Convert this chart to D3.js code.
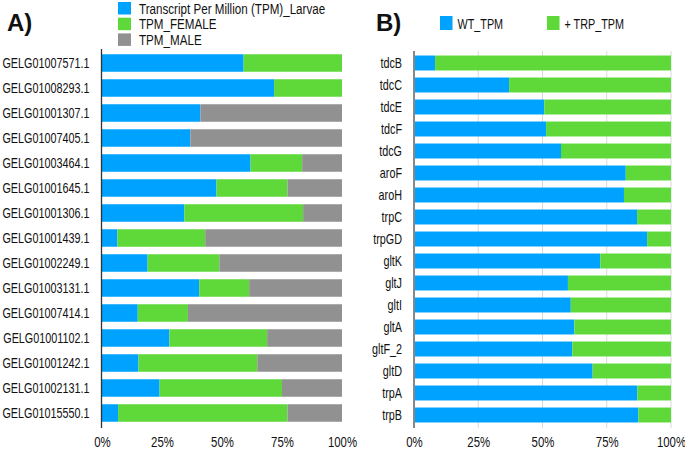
<!DOCTYPE html>
<html><head><meta charset="utf-8">
<script src="https://cdn.jsdelivr.net/npm/d3@7"></script>
<style>
body{margin:0;background:#fff;}
svg{display:block;}
text{font-family:"Liberation Sans",Arial,sans-serif;fill:#111;}
</style></head><body>
<svg id="c" width="685" height="450"></svg>
<script>
// Panel A data (fractions of total)
const genesA = ["GELG01007571.1","GELG01008293.1","GELG01001307.1","GELG01007405.1","GELG01003464.1","GELG01001645.1","GELG01001306.1","GELG01001439.1","GELG01002249.1","GELG01003131.1","GELG01007414.1","GELG01001102.1","GELG01001242.1","GELG01002131.1","GELG01015550.1"];
const larvaeA = [0.590,0.717,0.410,0.368,0.619,0.477,0.343,0.064,0.190,0.405,0.149,0.281,0.152,0.240,0.067];
const femaleA = [0.410,0.283,0.000,0.000,0.215,0.296,0.495,0.366,0.299,0.208,0.209,0.407,0.495,0.510,0.706];
const maleA   = [0.000,0.000,0.590,0.632,0.166,0.227,0.162,0.570,0.511,0.387,0.642,0.312,0.353,0.250,0.227];
const seriesA = ["Transcript Per Million (TPM)_Larvae","TPM_FEMALE","TPM_MALE"];
// Panel B data
const genesB = ["tdcB","tdcC","tdcE","tdcF","tdcG","aroF","aroH","trpC","trpGD","gltK","gltJ","gltI","gltA","gltF_2","gltD","trpA","trpB"];
const wtB  = [0.082,0.370,0.507,0.514,0.572,0.824,0.817,0.868,0.907,0.725,0.599,0.610,0.624,0.616,0.695,0.869,0.873];
const trpB = [0.918,0.630,0.493,0.486,0.428,0.176,0.183,0.132,0.093,0.275,0.401,0.390,0.376,0.384,0.305,0.131,0.127];
const seriesB = ["WT_TPM","+ TRP_TPM"];
const ticks = [0,0.25,0.5,0.75,1];

const cBlue="#00a2ff", cGreen="#5fd93a", cGray="#919191";
const svg = d3.select("#c");
const fmt = d => Math.round(d*100)+"%";
// condense text horizontally (reference uses a narrow face)
function narrow(sel, f){
  sel.each(function(){
    const w = this.getComputedTextLength();
    d3.select(this).attr("textLength", w*f).attr("lengthAdjust","spacingAndGlyphs");
  });
}

// ---------- Panel A ----------
const xA = d3.scaleLinear().domain([0,1]).range([102,342]);
const yA = d3.scaleBand().domain(genesA).range([50.5,425.5]).paddingInner(0.3).paddingOuter(0.15);
const rowsA = genesA.map((g,i)=>({g, vals:[larvaeA[i],femaleA[i],maleA[i]]}));
const colA = d3.scaleOrdinal().domain(seriesA).range([cBlue,cGreen,cGray]);
const layersA = d3.stack().keys([0,1,2]).value((d,k)=>d.vals[k])(rowsA);
const gA = svg.append("g");
gA.selectAll("g.layer").data(layersA).join("g").attr("fill",(d,i)=>colA(seriesA[i]))
  .selectAll("rect").data(d=>d).join("rect")
  .attr("x",d=>xA(d[0])).attr("width",d=>Math.max(0,xA(d[1])-xA(d[0])))
  .attr("y",d=>yA(d.data.g)).attr("height",yA.bandwidth());
const gyA = gA.append("g").attr("transform","translate(101.5,0)").call(d3.axisLeft(yA).tickSize(0).tickPadding(12));
gyA.select(".domain").remove();
gyA.selectAll("text").style("font-size","15px").call(narrow,0.72);
gA.append("line").attr("x1",101.5).attr("x2",101.5).attr("y1",49).attr("y2",428).attr("stroke","#333").attr("stroke-width",1.3);
const gxA = gA.append("g").attr("transform","translate(0,430)").call(d3.axisBottom(xA).tickValues(ticks).tickFormat(fmt).tickSize(0).tickPadding(6));
gxA.select(".domain").remove();
gxA.selectAll("text").style("font-size","15px").call(narrow,0.76);
// legend A
seriesA.forEach((s,i)=>{
  gA.append("rect").attr("x",118).attr("y",2+i*15.7).attr("width",13).attr("height",12.5).attr("fill",colA(s));
  gA.append("text").attr("x",139).attr("y",13.5+i*15.7).style("font-size","14px").text(s).call(narrow,0.83);
});
gA.append("text").attr("x",7).attr("y",31).style("font-size","24px").style("font-weight","bold").text("A)");

// ---------- Panel B ----------
const xB = d3.scaleLinear().domain([0,1]).range([414,671]);
const yB = d3.scaleBand().domain(genesB).range([52,426]).paddingInner(0.32).paddingOuter(0.16);
const rowsB = genesB.map((g,i)=>({g, vals:[wtB[i],trpB[i]]}));
const colB = d3.scaleOrdinal().domain(seriesB).range([cBlue,cGreen]);
const gB = svg.append("g");
gB.selectAll("line.grid").data(ticks.slice(1)).join("line").attr("class","grid")
  .attr("x1",d=>xB(d)).attr("x2",d=>xB(d)).attr("y1",51).attr("y2",428).attr("stroke","#d9d9d9").attr("stroke-width",1);
const layersB = d3.stack().keys([0,1]).value((d,k)=>d.vals[k])(rowsB);
gB.selectAll("g.layer").data(layersB).join("g").attr("fill",(d,i)=>colB(seriesB[i]))
  .selectAll("rect").data(d=>d).join("rect")
  .attr("x",d=>xB(d[0])).attr("width",d=>Math.max(0,xB(d[1])-xB(d[0])))
  .attr("y",d=>yB(d.data.g)).attr("height",yB.bandwidth());
const gyB = gB.append("g").attr("transform","translate(414,0)").call(d3.axisLeft(yB).tickSize(0).tickPadding(12));
gyB.select(".domain").remove();
gyB.selectAll("text").style("font-size","15px").call(narrow,0.72);
gB.append("line").attr("x1",414).attr("x2",414).attr("y1",51).attr("y2",428).attr("stroke","#888").attr("stroke-width",2);
const gxB = gB.append("g").attr("transform","translate(0,430)").call(d3.axisBottom(xB).tickValues(ticks).tickFormat(fmt).tickSize(0).tickPadding(6));
gxB.select(".domain").remove();
gxB.selectAll("text").style("font-size","15px").call(narrow,0.76);
const lgBx = [440,547];
seriesB.forEach((s,i)=>{
  gB.append("rect").attr("x",lgBx[i]).attr("y",16).attr("width",12.5).attr("height",14).attr("fill",colB(s));
  gB.append("text").attr("x",lgBx[i]+17.5).attr("y",28.5).style("font-size","15px").text(s).call(narrow,0.72);
});
gB.append("text").attr("x",376).attr("y",31).style("font-size","24px").style("font-weight","bold").text("B)");
</script>
</body></html>
